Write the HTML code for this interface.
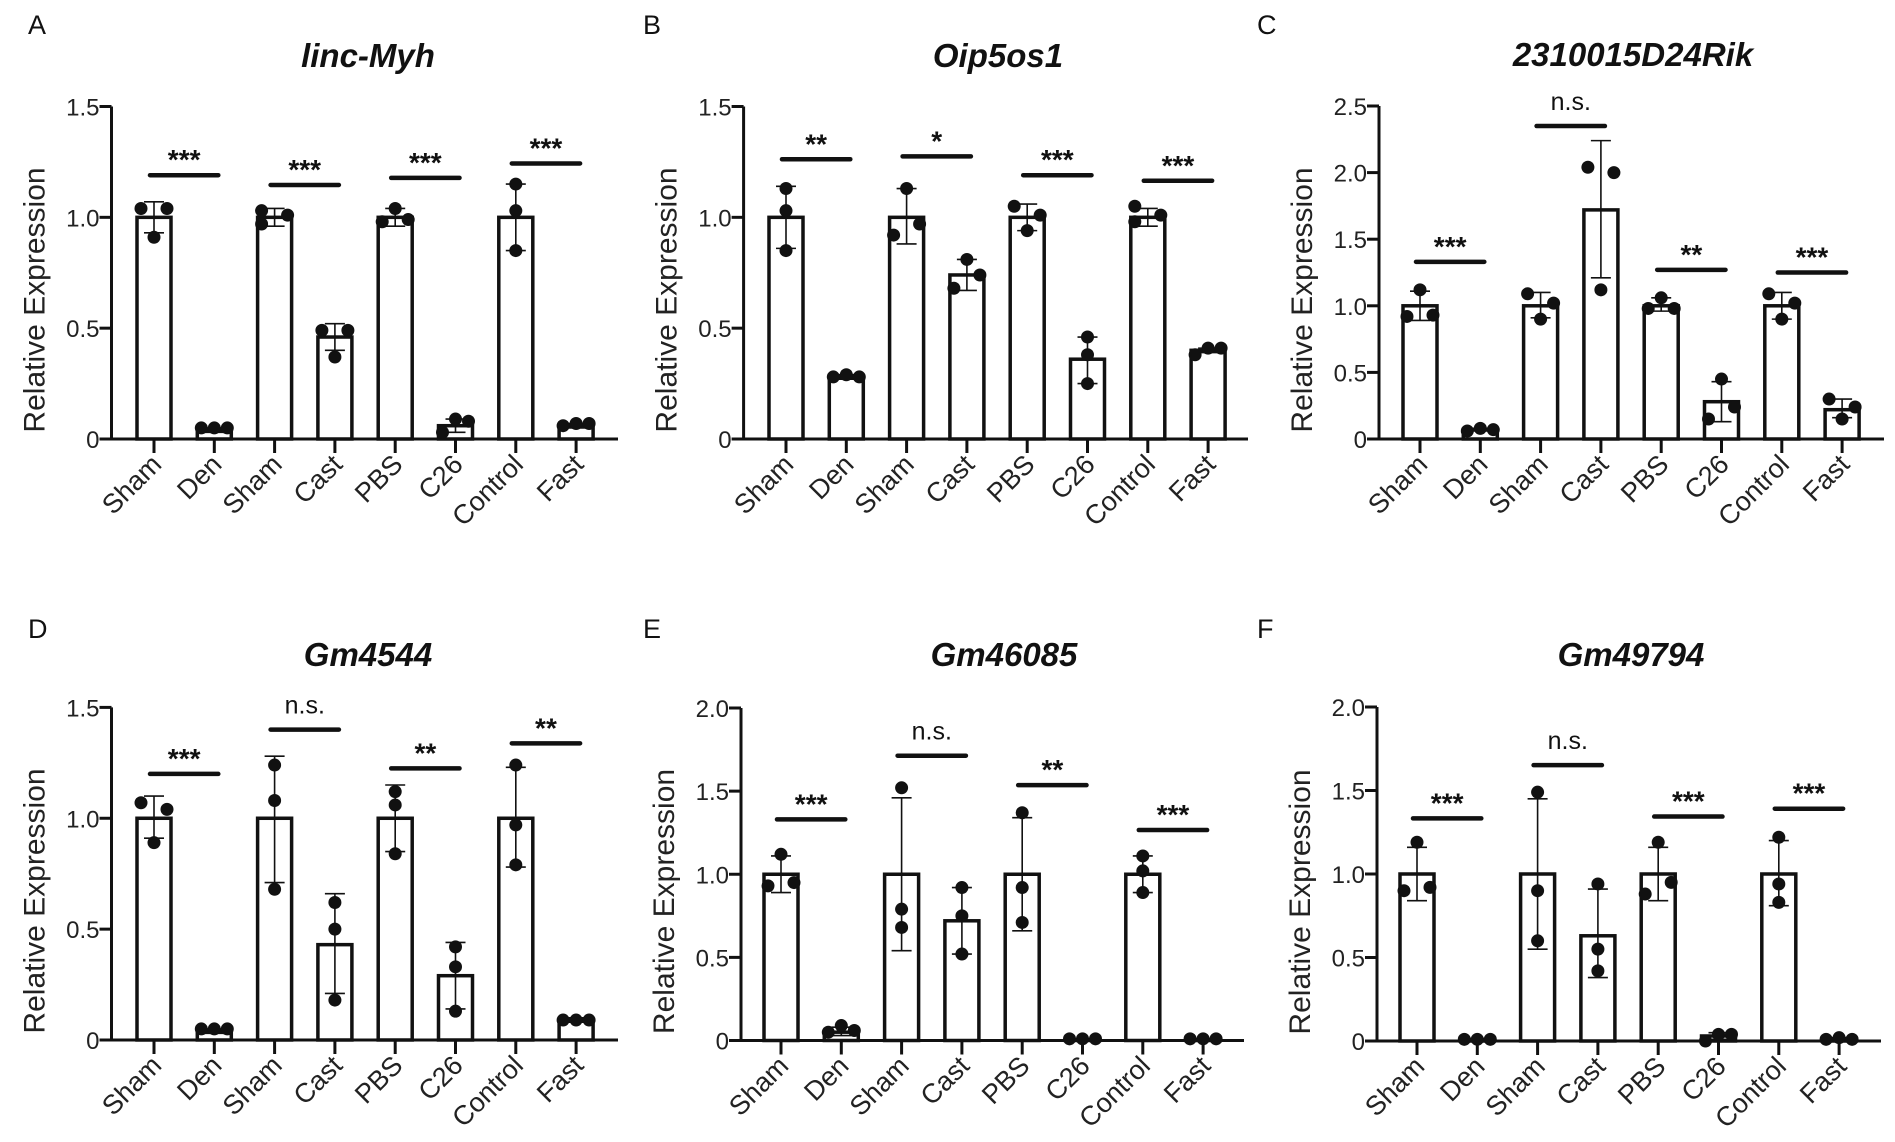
<!DOCTYPE html>
<html><head><meta charset="utf-8"><style>
html,body{margin:0;padding:0;background:#fff;overflow:hidden;}
svg{display:block;font-family:"Liberation Sans",Arial,sans-serif;}
</style></head><body>
<svg id="fig" width="1895" height="1142" viewBox="0 0 1895 1142" xmlns="http://www.w3.org/2000/svg"></svg>
<script>
const groups = ["Sham","Den","Sham","Cast","PBS","C26","Control","Fast"];

// Panel A: linc-Myh
const A_means = [1.0,0.04,1.0,0.46,1.0,0.06,1.0,0.06];
const A_errLo = [0.93,0.03,0.96,0.40,0.96,0.03,0.85,0.05];
const A_errHi = [1.07,0.05,1.04,0.52,1.04,0.09,1.15,0.07];
const A_points = [[1.04,0.91,1.04],[0.05,0.05,0.05],[1.03,0.97,1.01],[0.49,0.37,0.49],[0.98,1.04,0.99],[0.03,0.09,0.08],[1.15,1.03,0.85],[0.06,0.07,0.07]];
const A_jitter = [[-1,0,1],[-1,0,1],[-1,-1,1],[-1,0,1],[-1,0,1],[-1,0,1],[0,0,0],[-1,0,1]];
const A_sigY = [1.19,1.146,1.178,1.243];
const A_sigLabels = ["***","***","***","***"];
const A_ticks = [0,0.5,1.0,1.5];
const A_tickLabels = ["0","0.5","1.0","1.5"];

// Panel B: Oip5os1
const B_means = [1.0,0.28,1.0,0.74,1.0,0.36,1.0,0.40];
const B_errLo = [0.86,0.27,0.88,0.67,0.94,0.25,0.96,0.39];
const B_errHi = [1.14,0.29,1.13,0.81,1.06,0.46,1.04,0.41];
const B_points = [[1.13,1.03,0.85],[0.28,0.29,0.28],[0.92,1.13,0.97],[0.68,0.81,0.74],[1.05,0.94,1.01],[0.46,0.38,0.25],[1.05,0.98,1.01],[0.38,0.41,0.41]];
const B_jitter = [[0,0,0],[-1,0,1],[-1,0,1],[-1,0,1],[-1,0,1],[0,0,0],[-1,-1,1],[-1,0,1]];
const B_sigY = [1.262,1.275,1.19,1.165];
const B_sigLabels = ["**","*","***","***"];
const B_ticks = [0,0.5,1.0,1.5];
const B_tickLabels = ["0","0.5","1.0","1.5"];

// Panel C: 2310015D24Rik
const C_means = [1.0,0.07,1.0,1.72,1.0,0.28,1.0,0.22];
const C_errLo = [0.89,0.06,0.91,1.21,0.96,0.13,0.90,0.16];
const C_errHi = [1.11,0.08,1.10,2.24,1.06,0.43,1.10,0.30];
const C_points = [[0.92,1.12,0.93],[0.06,0.08,0.07],[1.09,0.90,1.02],[2.04,1.12,2.00],[0.98,1.06,0.98],[0.15,0.45,0.24],[1.09,0.90,1.02],[0.30,0.15,0.24]];
const C_jitter = [[-1,0,1],[-1,0,1],[-1,0,1],[-1,0,1],[-1,0,1],[-1,0,1],[-1,0,1],[-1,0,1]];
const C_sigY = [1.33,2.35,1.27,1.25];
const C_sigLabels = ["***","n.s.","**","***"];
const C_ticks = [0,0.5,1.0,1.5,2.0,2.5];
const C_tickLabels = ["0","0.5","1.0","1.5","2.0","2.5"];

// Panel D: Gm4544
const D_means = [1.0,0.04,1.0,0.43,1.0,0.29,1.0,0.09];
const D_errLo = [0.91,0.03,0.71,0.21,0.85,0.14,0.78,0.08];
const D_errHi = [1.10,0.05,1.28,0.66,1.15,0.44,1.23,0.10];
const D_points = [[1.07,0.89,1.04],[0.05,0.05,0.05],[1.24,1.08,0.68],[0.62,0.50,0.18],[1.12,1.06,0.84],[0.42,0.33,0.13],[1.24,0.97,0.79],[0.09,0.09,0.09]];
const D_jitter = [[-1,0,1],[-1,0,1],[0,0,0],[0,0,0],[0,0,0],[0,0,0],[0,0,0],[-1,0,1]];
const D_sigY = [1.20,1.40,1.225,1.338];
const D_sigLabels = ["***","n.s.","**","**"];
const D_ticks = [0,0.5,1.0,1.5];
const D_tickLabels = ["0","0.5","1.0","1.5"];

// Panel E: Gm46085
const E_means = [1.0,0.05,1.0,0.72,1.0,0.005,1.0,0.005];
const E_errLo = [0.89,0.03,0.54,0.52,0.66,0.0,0.89,0.0];
const E_errHi = [1.11,0.08,1.46,0.92,1.34,0.01,1.11,0.01];
const E_points = [[0.93,1.12,0.95],[0.05,0.09,0.06],[1.52,0.79,0.68],[0.92,0.75,0.52],[1.37,0.92,0.71],[0.01,0.01,0.01],[1.11,1.02,0.89],[0.01,0.01,0.01]];
const E_jitter = [[-1,0,1],[-1,0,1],[0,0,0],[0,0,0],[0,0,0],[-1,0,1],[0,0,0],[-1,0,1]];
const E_sigY = [1.33,1.713,1.536,1.266];
const E_sigLabels = ["***","n.s.","**","***"];
const E_ticks = [0,0.5,1.0,1.5,2.0];
const E_tickLabels = ["0","0.5","1.0","1.5","2.0"];

// Panel F: Gm49794
const F_means = [1.0,0.01,1.0,0.63,1.0,0.03,1.0,0.01];
const F_errLo = [0.84,0.01,0.55,0.38,0.84,0.01,0.81,0.01];
const F_errHi = [1.16,0.01,1.45,0.91,1.16,0.05,1.20,0.02];
const F_points = [[0.90,1.19,0.92],[0.01,0.01,0.01],[1.49,0.90,0.60],[0.94,0.55,0.42],[0.88,1.19,0.95],[0.0,0.04,0.04],[1.22,0.94,0.83],[0.01,0.02,0.01]];
const F_jitter = [[-1,0,1],[-1,0,1],[0,0,0],[0,0,0],[-1,0,1],[-1,0,1],[0,0,0],[-1,0,1]];
const F_sigY = [1.333,1.652,1.344,1.391];
const F_sigLabels = ["***","n.s.","***","***"];
const F_ticks = [0,0.5,1.0,1.5,2.0];
const F_tickLabels = ["0","0.5","1.0","1.5","2.0"];

const panels = [
 {id:"a",letter:"A",title:"linc-Myh",lx:28,ly:34,tx:368,ty:67,ax:111.5,y0:439,yTop:106.5,max:1.5,c0:154,step:60.3,xEnd:618,means:A_means,lo:A_errLo,hi:A_errHi,pts:A_points,jit:A_jitter,sigY:A_sigY,sigL:A_sigLabels,ticks:A_ticks,tl:A_tickLabels},
 {id:"b",letter:"B",title:"Oip5os1",lx:643,ly:34,tx:998,ty:67,ax:743.6,y0:439,yTop:106.5,max:1.5,c0:786,step:60.3,xEnd:1248,means:B_means,lo:B_errLo,hi:B_errHi,pts:B_points,jit:B_jitter,sigY:B_sigY,sigL:B_sigLabels,ticks:B_ticks,tl:B_tickLabels},
 {id:"c",letter:"C",title:"2310015D24Rik",lx:1257,ly:34,tx:1633,ty:66,ax:1379,y0:439,yTop:106,max:2.5,c0:1420,step:60.3,xEnd:1884,means:C_means,lo:C_errLo,hi:C_errHi,pts:C_points,jit:C_jitter,sigY:C_sigY,sigL:C_sigLabels,ticks:C_ticks,tl:C_tickLabels},
 {id:"d",letter:"D",title:"Gm4544",lx:28,ly:638,tx:368,ty:666,ax:111.5,y0:1040,yTop:707.4,max:1.5,c0:154,step:60.3,xEnd:618,means:D_means,lo:D_errLo,hi:D_errHi,pts:D_points,jit:D_jitter,sigY:D_sigY,sigL:D_sigLabels,ticks:D_ticks,tl:D_tickLabels},
 {id:"e",letter:"E",title:"Gm46085",lx:643,ly:638,tx:1004,ty:666,ax:741,y0:1040.5,yTop:708,max:2.0,c0:781,step:60.3,xEnd:1244,means:E_means,lo:E_errLo,hi:E_errHi,pts:E_points,jit:E_jitter,sigY:E_sigY,sigL:E_sigLabels,ticks:E_ticks,tl:E_tickLabels},
 {id:"f",letter:"F",title:"Gm49794",lx:1257,ly:638,tx:1631,ty:666,ax:1377,y0:1041,yTop:707,max:2.0,c0:1417,step:60.3,xEnd:1881,means:F_means,lo:F_errLo,hi:F_errHi,pts:F_points,jit:F_jitter,sigY:F_sigY,sigL:F_sigLabels,ticks:F_ticks,tl:F_tickLabels}
];

const NS="http://www.w3.org/2000/svg";
const svg=document.getElementById("fig");
function mk(tag,attrs,parent){const e=document.createElementNS(NS,tag);for(const k in attrs)e.setAttribute(k,attrs[k]);(parent||svg).appendChild(e);return e;}

panels.forEach(p=>{
  const g=mk("g",{});
  
  
  const yS=v=>p.y0-(v/p.max)*(p.y0-p.yTop);
  const xS=i=>p.c0+i*p.step;
  let t=mk("text",{x:p.lx,y:p.ly,"font-size":27,fill:"#111"},g);t.textContent=p.letter;
  
  
  t=mk("text",{x:p.tx,y:p.ty,"font-size":33,"font-weight":"bold","font-style":"italic","text-anchor":"middle",fill:"#111"},g);t.textContent=p.title;
  
  
  const ymid=p.y0-139;
  t=mk("text",{x:0,y:0,"font-size":30,"text-anchor":"middle",fill:"#222",transform:`translate(${p.ax-67},${ymid}) rotate(-90)`},g);t.textContent="Relative Expression";
  
  
  let l=mk("line",{x1:p.ax,y1:p.yTop,x2:p.ax,y2:p.y0+1.5,stroke:"#111","stroke-width":3},g);
  
  
  p.ticks.forEach((v,i)=>{
    const tk=mk("line",{x1:p.ax-12,y1:yS(v),x2:p.ax,y2:yS(v),stroke:"#111","stroke-width":3},g);
    
    
    const tt=mk("text",{x:p.ax-12,y:yS(v)+9,"font-size":24,"text-anchor":"end",fill:"#222"},g);tt.textContent=p.tl[i];
    
    
  });
  p.means.forEach((m,i)=>{
    const cx=xS(i);
    const r=mk("rect",{x:cx-17,y:yS(m),width:34,height:Math.max(0,p.y0-yS(m)),fill:"#fff",stroke:"#111","stroke-width":3.5},g);
    
    
  });
  l=mk("line",{x1:p.ax-1.5,y1:p.y0,x2:p.xEnd,y2:p.y0,stroke:"#111","stroke-width":3},g);
  
  
  p.means.forEach((m,i)=>{
    const cx=xS(i);
    const eb=mk("path",{d:`M${cx},${yS(p.lo[i])}V${yS(p.hi[i])}M${cx-10},${yS(p.hi[i])}H${cx+10}M${cx-10},${yS(p.lo[i])}H${cx+10}`,stroke:"#111","stroke-width":1.6,fill:"none"},g);
    
    
    p.pts[i].forEach((v,j)=>{
      const c=mk("circle",{cx:cx+p.jit[i][j]*13,cy:yS(v),r:6.5,fill:"#111"},g);
      
      
    });
    const tk=mk("line",{x1:cx,y1:p.y0,x2:cx,y2:p.y0+14,stroke:"#111","stroke-width":3},g);
    
    
    const xl=mk("text",{x:0,y:0,"font-size":27,"text-anchor":"end",fill:"#222",transform:`translate(${cx+9},${p.y0+27}) rotate(-45)`},g);xl.textContent=groups[i];
    
    
  });
  p.sigY.forEach((v,k)=>{
    const x1=xS(2*k)-4,x2=xS(2*k+1)+4,y=yS(v);
    const sl=mk("line",{x1:x1,y1:y,x2:x2,y2:y,stroke:"#111","stroke-width":4.5,"stroke-linecap":"round"},g);
    
    
    const ns=p.sigL[k]==="n.s.";
    const st=mk("text",{x:(x1+x2)/2,y:ns?y-16:y-6,"font-size":ns?25:28,"font-weight":ns?"normal":"bold","text-anchor":"middle",fill:"#111"},g);st.textContent=p.sigL[k];
    
    
  });
});
</script>
</body></html>
